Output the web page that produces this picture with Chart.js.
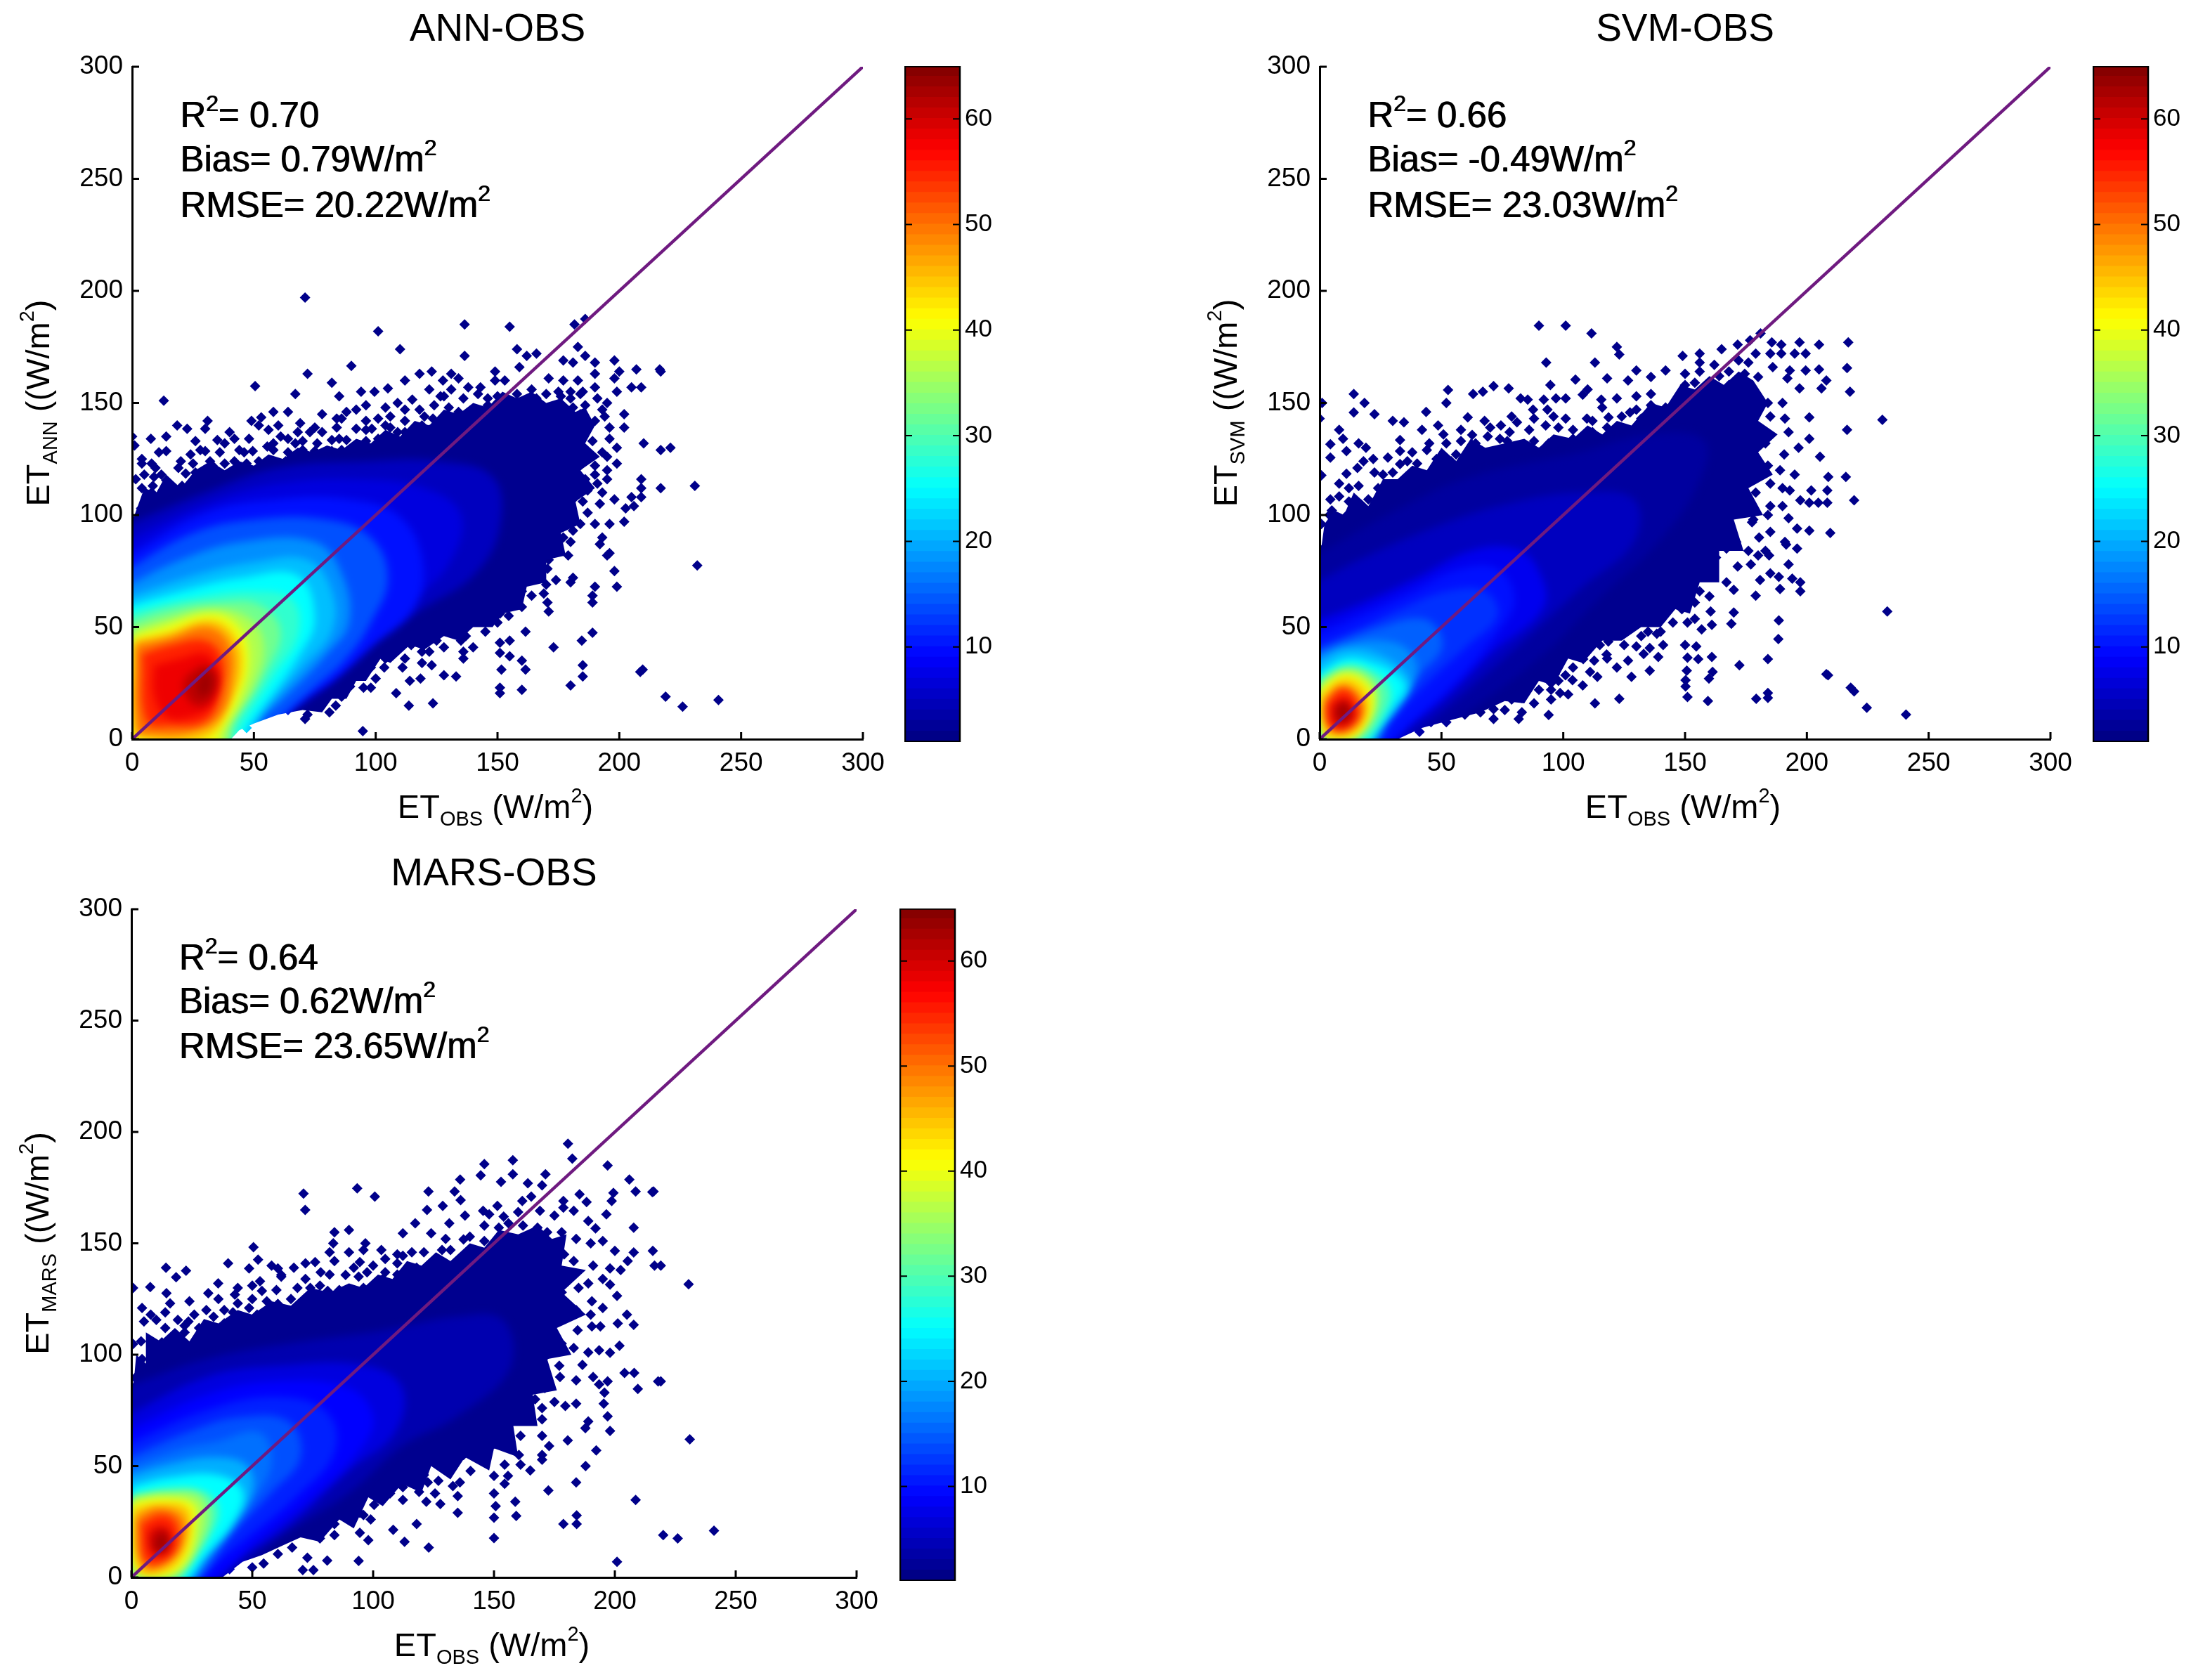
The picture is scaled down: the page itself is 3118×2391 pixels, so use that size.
<!DOCTYPE html>
<html><head><meta charset="utf-8">
<script src="https://cdn.jsdelivr.net/npm/chart.js@4"></script>
<style>html,body{margin:0;padding:0;background:#fff;width:3118px;height:2391px;overflow:hidden}canvas{position:absolute}</style>
</head><body>
<script>
const axisTicks=[0,50,100,150,200,250,300];
const colorTicks=[10,20,30,40,50,60];
const colorSteps=[1,2,3,4,5,6,7,8,9,10,11,12,13,14,15,16,17,18,19,20,21,22,23,24,25,26,27,28,29,30,31,32,33,34,35,36,37,38,39,40,41,42,43,44,45,46,47,48,49,50,51,52,53,54,55,56,57,58,59,60,61,62,63,64];
const oneToOneX=[0,300];
const oneToOneY=[0,300];

const annOuter=[-3,-3,-3,72,1,100,5,112,10,110,14,118,20,112,26,120,32,124,38,120,44,124,50,122,56,127,62,125,68,130,74,128,80,131,86,129,92,134,98,132,104,138,110,135,116,142,122,140,128,147,134,145,140,150,146,148,152,155,158,152,164,155,170,150,176,152,182,146,186,148,190,140,186,132,192,126,184,120,190,112,182,106,184,96,176,92,178,82,170,80,170,70,162,68,160,58,152,56,148,50,140,50,134,44,128,46,120,40,114,42,106,34,102,36,96,26,92,26,88,18,82,18,78,12,70,13,60,11,50,7,44,4,38,-3];
const annLevels=[5,7,10,14,18,21,25,28,32,36,40,45,50,55,58,61,63];
const annContours=[
[-3,95,30,110,60,121,97,124,126,124,148,117,151,95,141,74,119,58,104,48,89,33,75,19,58,8,46,-3,-3,-3],
[-3,88,30,105,60,114,92,116,120,112,135,100,130,78,115,62,98,46,84,30,68,16,56,4,50,-3,-3,-3],
[-3,81,30,101,60,107,89,107,109,100,119,81,116,59,98,41,82,26,69,18,60,8,52,-3,-3,-3],
[-3,75,25,92,50,98,80,98,98,90,105,72,98,52,88,36,74,22,62,10,52,-3,-3,-3],
[-3,68,20,80,45,88,75,88,86,74,89,52,80,38,62,18,52,8,46,-3,-3,-3],
[-3,63,25,73,50,79,72,80,82,66,82,48,70,32,55,14,43,-3,-3,-3],
[-3,59,20,66,45,72,68,73,75,54,69,38,50,9,40,-3,-3,-3],
[-3,56,25,63,50,66,66,62,68,46,58,28,46,8,39,-3,-3,-3],
[-3,52,15,58,35,61,52,60,61,48,54,28,42,8,38,-3,-3,-3],
[0,49,15,54,33,58,48,54,54,42,50,24,40,6,37,-3,0,-3],
[0.5,46,12,50,33,56,44,50,48,36,44,18,36,2,35,-3,0.5,-3],
[1,44,14,47,32,53,42,46,45,32,40,16,32,2,15,-1,5,1,1,3],
[1.5,42,15,45,31,50,40,42,41,26,36,10,24,3,8,2,2,4],
[4,38,16,42,30,44,37,36,36,20,30,8,16,6,6,8],
[9,33,20,36,30,38,35,30,33,16,25,10,14,10,9,20],
[22,28,30,33,35,28,32,17,26,15,21,22],
[27,27,31,30,33,26,31,20,27,20]
];
const annPoints=[71,197,101,182,136.5,185,155,184,181.6,185,186,187.5,110,174,136.5,171,158,174,162,171,166,172,183,175,186,171,177,169,181,168,190,168,198,169,90,166.5,72,163,207,165,217,164,82,159,50.5,157.5,67,154,13,151,85,153,94,155,99.5,155,105,156.5,112,160,118,163,123,164,131,163,134,161,127.6,160,149,164,159,166,
138,157,143,157,149,160,153,160,164,156,171,161,177,160,183,160,190,163,198,161,200,164,205,157,209,157,199,155,202,145,193,147,186,149,175,147,202,139,196,139,199,130,210,132,217,129,193,128,195,126,199,123,195,120,190,118,183,121,177,118,209,116,209,112,209,108,205,108,217,112,198,107,193,110,187,111,181,107,192,105,206,104,202.6,103,187,101,181,98,202,97,196,96,177,95,175,101,193,90,192,87,196,83,195,82,177,90,172,85,169,90,165,82,198,75,170.5,76,181,72,180,70,174,71,162,72,160,69,170,69,199,68,190,68,189,64,189,61,170.5,61,171,57,160,59,155,61,149,63,156,65,
154.6,55,140,55,134,54,126.5,54,131,49,119,52,113,48,137,46,161.5,48,189,47.5,184.6,44,151,43,155,44,173,41,140,41,136,39,136,36,128,41,122,39,119,39,114.6,42,112,36,107,38.5,100.6,38.5,94,40,103.5,32,100,27,95,28.5,95,23,98,23,151,38.5,151.6,31,155,37,160,35,161.5,31,185,33,209.6,31,128,28.5,133,28,123,33,118.4,27,114,26,185,28,180,24,151,23,151,20.5,160,22,108.4,20.5,113.6,15,123.5,16,89.5,23.5,86,19,81,12,83.6,15,79,18,72,11,71,9,94.7,3.6,47,5,51,11,55,13,64,13,
208.6,30,219,19,226,14.5,240.7,17.5,232,77.5,231,113,216.6,165,221,130,
96,149,92,147,88,146,84,143,78,145,75,139,69,141,64,146,58,146,60,140,53,143.6,49,142,52,140,61,135,67,132,73,137,78,137,82,133.5,88,133.5,92,138.5,101,143,109,150,115,151.5,118,147,122,156,126.6,153,123.5,143,131,156,134,146,140,141.5,146,149,98.4,138.5,104,140,109,137,115,136,119,140,128,140,134,138.5,95.4,130,89.5,128.5,82,128.5,75,128.5,69,124,63,124,55.5,130.6,49.5,128.5,44,129,42,134,35,133.5,31,142,30,138.5,22.6,138.5,18.5,140,14,135,7.7,134,0,135,1,131,14,128.5,4,125,4,123,30,128.5,36,128,32,124,38,123,44,121,49.5,118,19,121,9.6,121,12,118,9,117,1.5,116,14,115.5,27,115.5,32,117,39,117,8,110,12.6,111,21.5,111,3.7,103,0,98,1.5,97.6,6,97,7.4,94,5,88,0,83,2,81,3.7,77,0,72,4.4,71,
4,112,8.5,113,17,112,20.5,113,5,118,22,118.5,26,119,36,118,42,119,47,118,8,123,20,124,25,123,33,122,42,124,47,123,52,124,58,123,66,125,72,123,80,124,86,125,92,123,98,124,104,125,108,123,11,128,24,127,28,129,46,128,58,129,64,128,70,129,78,127,86,129,94,128,100,127,106,129,112,128,118,129,122,127,26,133,38,132,48,134,58,132,64,134,70,133,76,132,85,134,96,133,101,134,107,132,112,134,118,133,124,134,130,132,40,137,56,138,68,137,84,139,96,138,106,139,112,137,122,138,130,139,137,137,142,138,148,139,86,143,96,142,106,144,112,142,120,144,128,143,136,144,142,143,148,144,152,142,158,143,104,148,112,147,124,149,130,148,140,147,152,149,156,148,162,147,168,149,172,148,128,153,136,152,142,154,146,152,150,153,158,154,166,152,170,154,176,153,180,152,184,154,
175,155,175,143,176,137,174,131,175,125,176,112,175,106,180,155,181,148,180,143,179,137,181,131,180,126,179,115,181,112,180,103,181,93,180,88,179,82,185,155,184,145,186,140,185,135,184,128,186,116,185,106,184,96,190,157,191,152,190,142,189,133,190,122,191,114,190,96,195,150,194,144,196,134,195,116,170,96,171,80,169,65,165,76,166,72,164,64,160,66,161,72,150,52,151,56,145,48,146,56,135,44,134,50,125,44,118,44,119,34,110,44,111,32,104,36,98,32,90,28];

const svmOuter=[-3,-3,-3,72,0,80,2,96,6,102,10,100,14,110,20,104,26,116,32,116,38,122,44,120,50,130,56,124,62,134,68,130,76,132,84,134,90,130,96,136,104,134,110,140,116,136,122,142,128,140,136,150,142,148,148,158,154,156,160,162,166,158,172,164,178,160,184,150,180,142,188,136,180,128,186,118,176,112,182,100,170,98,174,84,164,84,164,70,156,70,152,56,146,58,140,50,132,50,124,44,116,44,108,34,102,36,96,24,90,26,84,16,76,17,66,12,52,8,42,5,34,1,26,-3];
const svmLevels=[3,5,8,10,12,15,18,21,25,30,36,40,44,50,55,60,63];
const svmContours=[
[-3,81,33,103,62,117,107,128,136,136,158,133,155,113,139,88,114,62,92,38,62,13,38,-3,-3,-3],
[-3,69,18,81,48,95,77,105,107,110,129,107,129,88,107,67,85,45,62,23,40,3,33,-3,-3,-3],
[-3,52,18,61,40,72,62,84,80,85,89,77,92,59,70,38,51,18,33,3,28,-3,-3,-3],
[-3,46,18,56,38,66,58,76,73,76,80,62,72,46,56,26,40,10,25,-3,-3,-3],
[-3,40,18,50,33,58,52,66,68,66,73,55,60,41,45,26,30,9,22,-3,-3,-3],
[-3,38,10,44,25,50,40,54,48,50,50,40,40,28,30,14,21,-3,-3,-3],
[-3,36,12,42,25,44,36,40,40,30,33,18,26,8,20,-3,-3,-3],
[-1,34,11,40,26,37,37,26,32,14,24,4,19,-3,-1,-3],
[-1,29,11,36,22,34,30,30,35,23,28,12,23,4,18,-3,-1,-3],
[0,27,11,33,22,30,29,22,26,10,17,-1,3,-1],
[0,25,11,31,21,27,24,18,20,6,13,0,2,0],
[0,22,10,29,19,25,22,16,17,4,11,0,2,1],
[0.5,20,10,27,18,23,20,14,16,4,9,1,2,2],
[2,18,9,24,16,20,18,12,13,4,6,3,2,9],
[3,16,9,22,14,19,16,11,11,5,5,5,3,10],
[5,15,10,18,13,15,14,10,10,6,6,7],
[7,13,10,16,12,13,11,9,8,9]
];
const svmPoints=[90,184.5,101,184.5,111.6,181,122,175,123,171.6,113,168,93,168,217,177,205,176,197,177,185.6,177,189.5,176,181,181,176.7,178,171.6,176,165,174,156,172,149,171,216.5,165.6,205,165,208,160,206,156.5,217.7,155,199.5,172,195,172,189.5,172,185,172,179,172,199.5,164.5,193,164.5,186,166,197,156.5,192,161,180,161.6,174.5,163,105,160.4,118,161,130,164.5,142,164.5,136,161.6,126.6,160,94.7,158,110,156,108,153.7,71.4,157.5,77.6,156.5,67,155,63,154,52.7,155.8,52,150,14,154,18.4,150,14,145.8,22.5,145,1,150,0,143,43.7,146,30,142,34.6,141.4,42,138,48.6,140,60.8,143.6,67.7,142,78.8,144,82.5,152,85.4,151.5,92,151.5,97,152,101,152,115.6,151.5,122,152,87.6,147,93.5,147,74.4,140,81,141.4,92.8,140,101,143,109.7,143,118.6,143.6,127.4,145.8,8,138,9.6,134,16,132,19,130,4.4,131.6,4.4,125.6,11,128.5,33,133.5,33,128.5,28,125.6,50.8,136,52,132,45,132,62.6,135.7,69,135,77,133,84.7,131,98,133,0.7,117.7,8,114,11,118.4,15.5,121,22.5,119,33,122.7,8,108.3,4.4,107,0.7,96,5,102,11,99.7,17,104.7,12.5,95,6.6,81,9.6,78,1.5,85,0.7,74,
205.4,126,208.8,117,216,117,216.5,138,208.4,111,208.4,105.5,201.8,111,204.7,105.5,201,105.5,219.4,106.6,209.6,92,201,93,196,94,192.5,98.6,197.3,106.6,193,111,195,118,201,134,196.6,130,190.7,127,201,143.6,192.5,137,185,104,190,104,176,104,177.5,96.8,185,92.5,180.4,90,191.5,86.8,196,85,176,84,180,82,184.5,82,192.5,78,171.6,77,167,85,162.7,81,188.5,72.4,194,71.6,197.3,70,180.8,71,189,67,197.3,66,179,64,170,66.6,170,56.5,169,51.5,188.5,53,188.3,44.7,160.5,57,161,51,156.8,49,154,53.7,160,63.7,154,61,148.7,58,
140,53,136,58,134.8,48,130,52,138.4,47,135.5,40.7,130,41.4,124.4,48,118.5,43.6,115,42,106.8,39,139,36.7,135.5,30.6,128,27.8,122,32,126.6,35,117.8,37.8,112.7,35,108.2,35.7,114,27.8,108,24,102,20,98.7,20.6,95,17.7,123,18,113,16,94,10.8,150,42,154.6,41.4,151,36.4,155.4,35.7,161,36.7,172.3,33,184,35.7,208.7,28.5,150.7,30.6,150.2,26.3,150.2,23.5,151,18.8,159.8,27,161.3,30,159.4,17,179.2,18,184,20.6,184,18.4,219.4,21.3,103.8,26.3,100.9,28.5,96.5,29,95,25,95,22,90.6,29,83,18.4,83,12,81.7,9,71.4,9,71.4,13.4,66,12,78.8,17.7,59.6,11,52,7.6,45.7,7.6,41,3.3,
231,142.5,233,57,208,29,218,23,224.6,14,240.7,11,
4,100,14,101,22,100,12,106,20,107,28,106,12,112,16,113,24,112,32,111,38,113,26,118,30,119,38,118,46,119,18,124,22,125,36,124,40,123,48,125,54,124,60,125,70,124,80,126,88,125,38,128,44,129,56,127,62,129,72,128,80,129,90,128,96,129,102,127,110,129,58,133,64,132,74,134,88,133,94,132,104,134,110,133,118,132,124,134,58,138,70,139,78,137,86,138,98,139,104,138,112,137,118,139,126,138,132,137,88,143,96,144,112,142,124,144,132,143,138,144,116,148,130,147,136,149,142,148,130,153,136,154,148,152,150,158,154,159,160,157,168,158,174,159,150,163,156,164,164,162,168,164,156,168,162,167,172,169,176,168,
172,150,173,140,171,130,172,118,173,105,171,88,178,155,177,147,179,140,178,130,177,120,179,110,178,98,177,78,184,150,185,144,183,132,184,122,185,114,184,100,183,84,185,74,190,150,191,143,189,120,190,112,191,88,166,155,167,150,166,100,165,90,167,70,160,82,161,75,155,72,156,66,150,60,151,52,145,52,140,48,141,42,132,46,133,38,125,42,118,36,119,48,110,40,111,30,104,32,98,26,90,22,88,16,76,13];

const marsOuter=[-3,-3,-3,78,1,88,2,100,6,96,6,110,12,106,18,112,24,106,30,116,36,114,44,120,50,118,58,124,66,122,74,130,82,128,90,132,96,130,102,136,108,134,114,142,120,140,126,146,132,142,140,150,146,148,152,156,160,154,168,158,174,152,180,154,178,140,188,138,178,128,188,118,176,112,182,100,172,98,176,84,166,82,168,68,158,68,160,54,150,58,148,48,138,54,132,44,124,50,120,38,112,42,104,32,98,36,92,22,86,26,78,16,70,18,62,14,54,10,46,7,40,2,34,-3];
const marsLevels=[4,7,9,11,14,16,20,25,30,35,40,45,50,55,60,63];
const marsContours=[
[-3,85,31,98,68,105.5,105,111,134,117,153.6,115.6,156.6,94,134.4,72,112,59,90,38,60.5,17.5,35.5,-3,-3,-3],
[-3,72,31,90,60.5,95,97.5,95,112,85,109,65,90,48,63.5,22,38,4.5,32,-3,-3,-3],
[-3,65,31,82,60,88,90,85,100,72,95,58,75,36,52,16,30,-3,-3,-3],
[-3,59,31,75,60.5,81,81,74,84,56,68,36,46,16,30,2,27,-3,-3,-3],
[-3,53,25,66,45,72,65,70,70,54,58,38,42,20,24,-3,-3,-3],
[-3,49,21,58,35,61,53,65,58,51,49,33,34,12,22,-3,-3,-3],
[-3,45,16,51,35,54,48,50,50,38,40,22,30,8,21,-3,-3,-3],
[0,41,16,45,35.5,46,46,39,43,26,31,10,20,-3,0,-3],
[0.5,37,16,40,31,38,36,30,32,18,24,6,19,-2,1,-2],
[0,36,16,38,28,37,32,28,28,14,20,2,8,-1,0,2],
[0,34,14,36,26,33,27,24,24,10,16,1,5,1,0,8],
[1,31,12,33,23,31,24,20,20,8,12,2,3,3],
[2,27,11,31,21,27,21,16,15,7,7,4,3,10],
[4,24,12,28,18,25,19,14,13,7,6,7],
[7,20,12,23,16,20,15,12,11,10,8,12],
[10,17,13,20,15,16,13,12,10,13]
];
const marsPoints=[180.6,194.7,182.4,188,157.8,187.3,146,185.6,197,184.9,157.8,181,144.5,180.5,136,178.6,152.9,177.6,171.3,181,164,177,169.9,176,206,178.6,208.6,173.3,216,173.3,93.4,174.7,100.7,171,71.2,172.3,71.9,165,122.9,173.3,133.7,173.3,136.2,169.4,128.8,166.8,122.3,165,199.4,172.6,198.7,169,188.3,168.5,185.4,172,178.7,169,165.4,171,161.7,169,151.4,166.8,145.5,164.6,138,162.5,169,164.6,175,162.5,196.5,163,178.7,166,183,164.6,189,160,192,156.7,207.8,157,195,151,200,146.6,207.8,145.9,215.7,146.6,216.4,140,205.3,142,202.4,138,198,138.7,195,134,198,131.5,200.9,126.4,190.5,124,195,121,205,118,201.2,114,207.8,113.4,194,112.7,190.5,112.7,184.6,111,201.9,104,198,100.9,193.5,102,189,101,186.6,95.4,204,91.8,208,91.8,209.5,84.6,217.9,88,191,90,193.5,86.7,195.7,83,197,88,184,88.5,177.3,90,195.4,78,184,78,179.5,77,175,78.8,197,72.3,189,70,187.8,67,198,65.8,180.5,61.5,169.9,76,169.9,71,169.9,63.6,172.8,59,169.9,55,169.9,52.8,192.3,57,187.9,50,184,42.7,172.5,39,208.6,34.8,165,48,161,50.6,160.3,55,154.4,50.6,155.8,45.6,150,45.6,154.4,42,140.3,47.8,137.4,55,133,56.4,153.6,63.6,146,59,143,63.6,161,63.6,149,70.9,128.5,55,127,43.4,122.6,42.7,135.9,42.7,133,41,119,38.4,125.6,37.7,122,34,127.8,33,135,36.5,135,29,150,37.7,150.7,32,150,26.8,158.8,34,159.2,27.6,150,17.7,118,24,178.7,24,184.2,24,184.2,27.8,200.9,7,123,13.4,113,16,108.3,21.4,112.3,34.8,107,37.7,112.3,40.5,116.7,46,103.4,39,100.4,32.6,99,26,94.5,29,94.5,20,98,16.7,94,7.4,81,7.6,72.8,8.8,70.9,3.3,75.3,3.3,84,19,78,17.5,54.7,6.2,50,4.5,60.6,10.5,66.5,13.4,45.8,10,40.6,3.7,32.5,0,
50.5,148.3,52.4,142.7,40,141,14.3,139,22.6,137.7,18.5,134.8,0.7,130,7.8,130.4,14.5,127.6,16,123,4.4,121,31.8,127.6,35.9,132,48.7,138.7,60.6,138.7,67.2,139,76,141.6,84,155,90,156,83.5,150,96.8,150,103.4,147,117.4,159,112.3,154.5,124,154.5,131.5,159,84,142,90,146,94.5,141.6,105,143,112.3,144.4,121,146,128.5,147,137.4,151.7,78.3,137,88.6,135.8,97.5,137,105,137,53.2,133,62,135.8,42.8,127,54,128.6,68.7,130,81.2,128.6,90,127,31,120,10.3,115.6,19.2,115.6,5.2,114.9,23.6,114.9,38.4,120,48.7,121,60.6,122.8,0.7,104.8,12.6,105.5,8.9,101.9,4.4,98,1.5,89.6,3,81,22,110,31,111,38.4,114,45.8,115.6,11.8,98,
231,62,230.5,131.6,219,140,215.5,173,219,88,220,19,226,17.5,241,21,
4,106,16,107,20,105,14,112,22,113,28,112,34,111,42,113,50,112,8,118,14,119,26,118,34,117,42,119,52,118,58,119,64,117,24,124,36,125,44,123,50,125,56,124,66,125,72,123,80,124,86,125,96,123,102,124,44,130,50,131,60,129,74,130,78,131,86,129,96,130,100,131,108,129,114,130,62,135,72,134,82,136,94,135,104,134,110,136,116,135,122,134,58,140,72,141,92,139,100,140,110,141,118,139,124,140,130,141,136,139,82,146,96,147,110,145,116,146,132,147,138,145,130,152,140,153,146,151,146,158,152,157,156,159,162,158,168,157,148,163,154,162,160,164,
178,155,179,145,177,136,178,128,179,118,178,105,177,95,184,152,183,142,185,130,184,120,183,103,190,150,191,140,189,132,190,118,172,155,173,148,172,100,171,85,166,152,167,80,160,72,155,68,150,60,142,58,130,50,131,60,120,52,121,46,110,44,104,36,96,28,84,24];

const FONT='"Liberation Sans", Arial, sans-serif';
function clamp01(v){return Math.max(0,Math.min(1,v));}
function jet(v){const t=(v-1)/64;const c=k=>Math.round(255*clamp01(1.5-Math.abs(4*t-k)));return `rgb(${c(3)},${c(2)},${c(1)})`;}
function pairs(a){const o=[];for(let i=0;i<a.length;i+=2)o.push({x:a[i],y:a[i+1]});return o;}
function closed(a){const p=pairs(a);p.push(p[0]);return p;}

function drawRich(ctx,segs,x,y,center){
  let w=0;for(const s of segs){ctx.font=`${s.size}px ${FONT}`;w+=ctx.measureText(s.t).width;}
  let cx=center?x-w/2:x;
  for(const s of segs){ctx.font=`${s.size}px ${FONT}`;ctx.fillText(s.t,cx,y+(s.dy||0));cx+=ctx.measureText(s.t).width;}
}
function axisLabel(main,sub,paren){
  return [{t:main,size:47},{t:sub,size:29,dy:11},{t:paren,size:47},{t:'2',size:29,dy:-22},{t:')',size:47}];
}
function makePanel(cfg){
  const {plotL,plotT,plotW,plotH,title,stats,ySub,outer,levels,contours,points,id,titleTop}=cfg;
  const AX=Math.round(plotL),TOPH=96,BOTH=130;
  const cv=document.createElement('canvas');
  cv.width=AX*2+plotW;cv.height=TOPH+plotH+BOTH;
  cv.style.left=(plotL-AX)+'px';cv.style.top=(plotT-TOPH)+'px';
  document.body.appendChild(cv);
  const datasets=[];
  datasets.push({label:'points',data:pairs(points),showLine:false,pointStyle:'rectRot',pointRadius:7.5,pointBackgroundColor:'#00008a',pointBorderWidth:0,order:200});
  datasets.push({label:'outer',data:closed(outer),showLine:true,tension:0,pointRadius:0,borderWidth:0,fill:'shape',backgroundColor:'#00008f',order:199});
  contours.forEach((c,i)=>datasets.push({label:'density '+levels[i],data:closed(c),showLine:true,tension:0.4,pointRadius:0,borderWidth:0,fill:'shape',backgroundColor:jet(levels[i]),order:190-i}));
  const lastLevel='density '+levels[levels.length-1];
  datasets.push({label:'1:1',data:oneToOneX.map((x,i)=>({x,y:oneToOneY[i]})),showLine:true,tension:0,pointRadius:0,borderWidth:4.5,borderColor:'#6f1a80',fill:false,order:1});
  const fix=s=>{if(s.isHorizontal()){s.height=BOTH;}else{s.width=AX;}s.paddingLeft=s.paddingRight=s.paddingTop=s.paddingBottom=0;};
  const axisOpt=()=>({type:'linear',min:0,max:300,afterBuildTicks:s=>{s.ticks=axisTicks.map(v=>({value:v}));},afterFit:fix,
    grid:{drawOnChartArea:false,drawTicks:false},border:{color:'#000',width:3,z:2},
    ticks:{color:'#000',font:{family:FONT,size:37},padding:13,maxRotation:0,autoSkip:false}});
  const deco={id:'deco'+id,
    afterDatasetDraw(ch,a){const l=ch.data.datasets[a.index].label;
      if(l==='outer'){ch.ctx.filter='blur(6px)';ch.ctx.globalCompositeOperation='source-atop';}
      if(l===lastLevel){ch.ctx.filter='none';ch.ctx.globalCompositeOperation='source-over';}},
    afterDraw(ch){
      const c=ch.ctx,x=ch.scales.x,y=ch.scales.y,A=ch.chartArea;
      c.save();c.strokeStyle='#000';c.lineWidth=3;c.beginPath();
      axisTicks.forEach(v=>{const px=x.getPixelForValue(v),py=y.getPixelForValue(v);c.moveTo(px,A.bottom);c.lineTo(px,A.bottom-10);c.moveTo(A.left,py);c.lineTo(A.left+10,py);});
      c.stroke();c.fillStyle='#000';c.textBaseline='alphabetic';c.textAlign='left';
      drawRich(c,axisLabel('ET','OBS',' (W/m'),(A.left+A.right)/2-3,A.bottom+112,true);
      c.save();c.translate(A.left-118,(A.top+A.bottom)/2);c.rotate(-Math.PI/2);
      drawRich(c,axisLabel('ET',ySub,' ((W/m'),0,0,true);c.restore();
      c.shadowColor='#000';c.shadowOffsetX=1;c.shadowBlur=0;
      const sx=x.getPixelForValue(19.6);
      drawRich(c,[{t:'R',size:51},{t:'2',size:32,dy:-23},{t:'= '+stats[0],size:51}],sx,y.getPixelForValue(273));
      drawRich(c,[{t:'Bias= '+stats[1]+'W/m',size:51},{t:'2',size:32,dy:-23}],sx,y.getPixelForValue(253.4));
      drawRich(c,[{t:'RMSE= '+stats[2]+'W/m',size:51},{t:'2',size:32,dy:-23}],sx,y.getPixelForValue(233));
      c.restore();
    }};
  new Chart(cv,{type:'scatter',data:{datasets},plugins:[deco],options:{
    responsive:false,devicePixelRatio:1,animation:false,layout:{padding:{right:AX,left:0,top:0,bottom:0}},
    scales:{x:axisOpt(),y:axisOpt()},
    plugins:{legend:{display:false},tooltip:{enabled:false},
      title:{display:true,fullSize:false,text:title,color:'#000',font:{family:FONT,size:55,weight:'normal',lineHeight:1},padding:{top:titleTop,bottom:41-titleTop}}}}});
}
function makeBar(cfg){
  const {barL,barT,barW,barH,id}=cfg;const RW=60;
  const cv=document.createElement('canvas');cv.width=barW+RW;cv.height=barH;
  cv.style.left=barL+'px';cv.style.top=barT+'px';document.body.appendChild(cv);
  const datasets=colorSteps.map(v=>({label:'c'+v,data:[[v,v+1.05]],backgroundColor:jet(v+0.5),borderWidth:0,barPercentage:1,categoryPercentage:1,grouped:false}));
  const deco={id:'bar'+id,afterDraw(ch){
    const c=ch.ctx,y=ch.scales.y,A=ch.chartArea;c.save();c.strokeStyle='#000';c.lineWidth=2.5;
    c.strokeRect(A.left+1,A.top+0.5,A.right-A.left-2,A.bottom-A.top-1);c.lineWidth=2;c.beginPath();
    colorTicks.forEach(v=>{const p=y.getPixelForValue(v);c.moveTo(A.left,p);c.lineTo(A.left+11,p);c.moveTo(A.right,p);c.lineTo(A.right-11,p);});
    c.stroke();c.restore();}};
  new Chart(cv,{type:'bar',data:{labels:['density'],datasets},plugins:[deco],options:{
    responsive:false,devicePixelRatio:1,animation:false,
    scales:{x:{display:false},y:{position:'right',min:1,max:65,afterBuildTicks:s=>{s.ticks=colorTicks.map(v=>({value:v}));},
      afterFit:s=>{s.width=RW;s.paddingTop=s.paddingBottom=0;},
      grid:{display:false,drawTicks:false},border:{display:false},
      ticks:{color:'#000',font:{family:FONT,size:35},padding:6}}},
    plugins:{legend:{display:false},tooltip:{enabled:false}}}});
}
makePanel({id:1,plotL:188,plotT:95,plotW:1040,plotH:957,titleTop:16,title:'ANN-OBS',stats:['0.70','0.79','20.22'],ySub:'ANN',outer:annOuter,levels:annLevels,contours:annContours,points:annPoints});
makePanel({id:2,plotL:1878,plotT:95,plotW:1040,plotH:957,titleTop:16,title:'SVM-OBS',stats:['0.66','-0.49','23.03'],ySub:'SVM',outer:svmOuter,levels:svmLevels,contours:svmContours,points:svmPoints});
makePanel({id:3,plotL:187,plotT:1294,plotW:1032,plotH:951,titleTop:19,title:'MARS-OBS',stats:['0.64','0.62','23.65'],ySub:'MARS',outer:marsOuter,levels:marsLevels,contours:marsContours,points:marsPoints});
makeBar({id:1,barL:1287,barT:94,barW:80,barH:962});
makeBar({id:2,barL:2978,barT:94,barW:80,barH:962});
makeBar({id:3,barL:1280,barT:1293,barW:80,barH:957});
</script>
</body></html>
